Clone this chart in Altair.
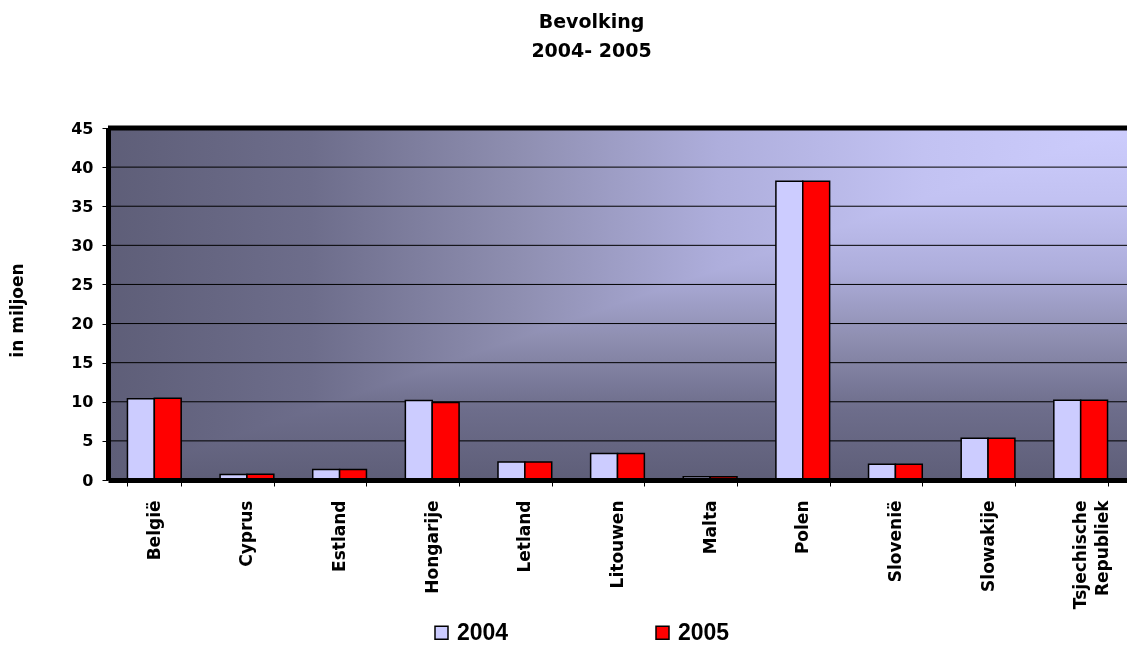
import altair as alt
import pandas as pd

countries = ["België", "Cyprus", "Estland", "Hongarije", "Letland", "Litouwen",
             "Malta", "Polen", "Slovenië", "Slowakije", "Tsjechische Republiek"]
pop_2004 = [10.4, 0.7, 1.35, 10.15, 2.3, 3.4, 0.4, 38.2, 2.0, 5.35, 10.2]
pop_2005 = [10.45, 0.72, 1.35, 9.9, 2.3, 3.4, 0.4, 38.2, 2.0, 5.35, 10.2]
years = ["2004", "2005"]
year_colors = ["#ccccff", "#ff0000"]
y_ticks = [0, 5, 10, 15, 20, 25, 30, 35, 40, 45]
grid_values = [5, 10, 15, 20, 25, 30, 35, 40]

rows = []
for c, a, b in zip(countries, pop_2004, pop_2005):
    rows.append({"land": c, "jaar": "2004", "waarde": a})
    rows.append({"land": c, "jaar": "2005", "waarde": b})
df = pd.DataFrame(rows)

W, H = 1019, 352
yscale = alt.Scale(domain=[0, 45], nice=False, zero=True)

y_axis = alt.Axis(
    values=y_ticks, labelFont="DejaVu Sans", labelFontSize=16,
    labelFontWeight="bold", labelColor="black", labelPadding=9,
    tickSize=6, tickColor="black", tickWidth=1,
    domainColor="black", domainWidth=5, grid=False, zindex=2,
    titleFont="DejaVu Sans", titleFontSize=17, titleFontWeight="bold",
    titleColor="black", titleX=-91, titleY=182, titleAngle=270,
    titleAlign="center", titleBaseline="middle",
)

stops = [
    {"offset": 0.0, "color": "#cdcdfd"},
    {"offset": 0.2, "color": "#c2c2f2"},
    {"offset": 0.4, "color": "#aeaedc"},
    {"offset": 0.6, "color": "#8e8eb0"},
    {"offset": 0.8, "color": "#6d6d8b"},
    {"offset": 1.0, "color": "#5e5e78"},
]

one = pd.DataFrame({"a": [0]})
bg_h = alt.Chart(one).mark_rect(
    fill={"gradient": "linear", "x1": 1, "y1": 0, "x2": 0, "y2": 0, "stops": stops}
).encode(x=alt.value(0), x2=alt.value(W), y=alt.value(0), y2=alt.value(H))
bg_v = alt.Chart(one).mark_rect(
    blend="darken",
    fill={"gradient": "linear", "x1": 0, "y1": 0, "x2": 0, "y2": 1, "stops": stops},
).encode(x=alt.value(0), x2=alt.value(W), y=alt.value(0), y2=alt.value(H))

grid = alt.Chart(pd.DataFrame({"v": grid_values})).mark_rule(
    color="black", strokeWidth=1
).encode(y=alt.Y("v:Q", scale=yscale, axis=y_axis, title="in miljoen"))

bars = alt.Chart(df).mark_bar(stroke="black", strokeWidth=1.5).encode(
    x=alt.X(
        "land:N", sort=countries, title=None,
        scale=alt.Scale(paddingInner=0.42, paddingOuter=0.21),
        axis=alt.Axis(
            labelAngle=270, labelAlign="right", labelBaseline="middle",
            labelFont="DejaVu Sans", labelFontSize=17, labelFontWeight="bold",
            labelColor="black", labelPadding=14, labelLineHeight=22,
            labelExpr="split(datum.label, ' ')",
            tickBand="extent", tickSize=6, tickColor="black", tickWidth=1,
            domainColor="black", domainWidth=5, grid=False, zindex=2,
        ),
    ),
    xOffset=alt.XOffset("jaar:N", sort=years,
                        scale=alt.Scale(paddingInner=0, paddingOuter=0)),
    y=alt.Y("waarde:Q", scale=yscale, title="in miljoen", axis=y_axis),
    color=alt.Color(
        "jaar:N",
        scale=alt.Scale(domain=years, range=year_colors),
        legend=alt.Legend(
            orient="none", legendX=322, legendY=493, direction="horizontal",
            title=None, symbolType="square", symbolSize=169,
            symbolStrokeColor="black", symbolStrokeWidth=1.5,
            labelFont="Liberation Sans", labelFontSize=23, labelFontWeight="bold",
            labelColor="black", labelOffset=4, columnPadding=142, padding=0,
        ),
    ),
)

top_rule = alt.Chart(one).mark_rule(color="black", strokeWidth=5).encode(
    y=alt.value(0), x=alt.value(0), x2=alt.value(W)
)

chart = alt.layer(bg_h, bg_v, grid, bars, top_rule).properties(
    width=W, height=H,
    autosize="none",
    padding={"left": 100, "top": 120, "right": 0, "bottom": 165},
    title=alt.Title(
        ["Bevolking", "2004- 2005"], font="DejaVu Sans", fontSize=19,
        fontWeight="bold", lineHeight=29, anchor="middle", frame="group",
        dx=-26, offset=59, color="black",
    ),
).configure_view(stroke=None)

chart.save("out.html", embed_options={"renderer": "svg", "actions": False})
